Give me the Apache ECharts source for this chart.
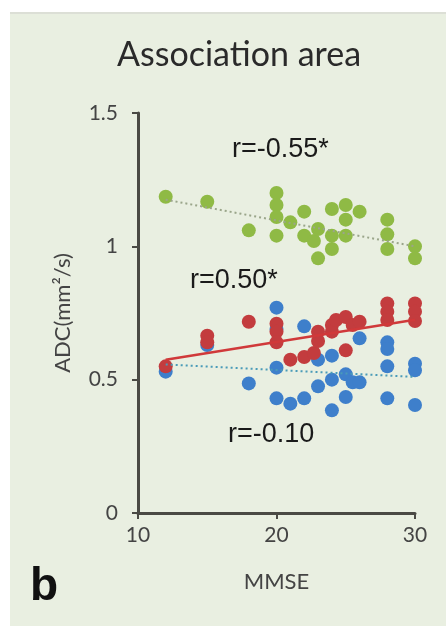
<!DOCTYPE html>
<html><head><meta charset="utf-8">
<script src="https://cdn.jsdelivr.net/npm/echarts@6/dist/echarts.min.js"></script>
<style>html,body{margin:0;padding:0;background:#fff}#c{width:446px;height:626px}</style>
</head><body><div id="c"></div>
<script>
const xTicks = [10, 20, 30];
const yTicks = [0, 0.5, 1, 1.5];
const greenPts = [[12,1.186],[15,1.167],[18,1.06],[20,1.2],[20,1.155],[20,1.11],[20,1.04],[21,1.09],[22,1.13],[22,1.04],[22.7,1.02],[23,1.065],[23,0.955],[24,0.99],[24,1.04],[24,1.14],[25,1.155],[25,1.1],[25,1.04],[26,1.13],[28,1.1],[28,1.045],[28,0.99],[30,1.0],[30,0.955]];
const redPts = [[12,0.55],[15,0.665],[15,0.64],[18,0.717],[20,0.71],[20,0.68],[20,0.64],[21,0.575],[22,0.585],[22.7,0.6],[23,0.68],[23,0.645],[24,0.705],[24,0.68],[24.3,0.724],[25,0.735],[25,0.61],[25.5,0.705],[26,0.717],[28,0.786],[28,0.755],[28,0.724],[30,0.786],[30,0.755],[30,0.72]];
const bluePts = [[12,0.53],[15,0.63],[18,0.486],[20,0.77],[20,0.69],[20,0.545],[20,0.43],[21,0.41],[22,0.43],[22,0.7],[23,0.475],[23,0.575],[24,0.59],[24,0.5],[24,0.385],[25,0.52],[25,0.435],[25.5,0.49],[26,0.655],[26,0.49],[28,0.64],[28,0.615],[28,0.55],[28,0.43],[30,0.56],[30,0.535],[30,0.405]];
const greenTrend = [[12,1.175],[30,1.0]];
const redTrend = [[12,0.575],[30,0.725]];
const blueTrend = [[12,0.557],[30,0.51]];
const labels = {green:'r=-0.55*', red:'r=0.50*', blue:'r=-0.10'};

const chart = echarts.init(document.getElementById('c'));
chart.setOption({
  backgroundColor: '#e9efe1',
  animation: false,
  title: {text: 'Association area', left: 234, top: 33, textAlign: 'center',
    textStyle: {fontFamily: 'Lato', fontSize: 34, fontWeight: 'normal', color: '#2a2a2a'}},
  grid: {left: 138, right: 31, top: 113, bottom: 113},
  xAxis: {type: 'value', min: 10, max: 30, interval: 10,
    name: 'MMSE', nameLocation: 'middle', nameGap: 58,
    nameTextStyle: {fontFamily: 'Lato', fontSize: 22, color: '#444'},
    axisLine: {show: true, lineStyle: {color: '#4a4a44', width: 3}},
    axisTick: {show: true, length: 6, lineStyle: {color: '#4a4a44', width: 2}},
    axisLabel: {fontFamily: 'Lato', fontSize: 21, color: '#444', margin: 12,
      formatter: v => xTicks.includes(v) ? String(v) : ''},
    splitLine: {show: false}},
  yAxis: {type: 'value', min: 0, max: 1.5, interval: 0.5,
    name: 'ADC(mm²/s)', nameLocation: 'middle', nameGap: 64, nameRotate: 90,
    nameTextStyle: {fontFamily: 'Lato', fontSize: 22, color: '#444'},
    axisLine: {show: true, lineStyle: {color: '#4a4a44', width: 3}},
    axisTick: {show: true, length: 6, lineStyle: {color: '#4a4a44', width: 2}},
    axisLabel: {fontFamily: 'Lato', fontSize: 21, color: '#444', margin: 20,
      formatter: v => yTicks.includes(v) ? String(v) : ''},
    splitLine: {show: false}},
  graphic: [
    {type: 'rect', shape: {x: 0, y: 0, width: 446, height: 12}, style: {fill: '#ffffff'}, z: 100},
    {type: 'rect', shape: {x: 0, y: 0, width: 10, height: 626}, style: {fill: '#ffffff'}, z: 100},
    {type: 'rect', shape: {x: 10, y: 12, width: 436, height: 2}, style: {fill: '#dcdfd6'}, z: 100},
    {type: 'text', left: 232, top: 136, style: {text: labels.green, font: '27px "Liberation Sans"', fill: '#1a1a1a'}, z: 100},
    {type: 'text', left: 190, top: 267, style: {text: labels.red, font: '27px "Liberation Sans"', fill: '#1a1a1a'}, z: 100},
    {type: 'text', left: 228, top: 421, style: {text: labels.blue, font: '27px "Liberation Sans"', fill: '#1a1a1a'}, z: 100},
    {type: 'text', left: 30, top: 564, style: {text: 'b', font: 'bold 46px "Liberation Sans"', fill: '#111'}, z: 100}
  ],
  series: [
    {type: 'scatter', data: bluePts, symbolSize: 14, itemStyle: {color: '#3e7fcb', opacity: 1}, z: 2},
    {type: 'scatter', data: redPts, symbolSize: 14, itemStyle: {color: '#c33c3e', opacity: 1}, z: 3},
    {type: 'scatter', data: greenPts, symbolSize: 14, itemStyle: {color: '#8fba45', opacity: 1}, z: 2},
    {type: 'line', data: greenTrend, symbol: 'none', lineStyle: {color: '#9aa58a', width: 2, type: [2, 3]}, z: 4},
    {type: 'line', data: blueTrend, symbol: 'none', lineStyle: {color: '#4a9bb8', width: 2, type: [2, 3]}, z: 4},
    {type: 'line', data: redTrend, symbol: 'none', lineStyle: {color: '#d0393a', width: 2.5}, z: 5}
  ]
});
</script></body></html>
